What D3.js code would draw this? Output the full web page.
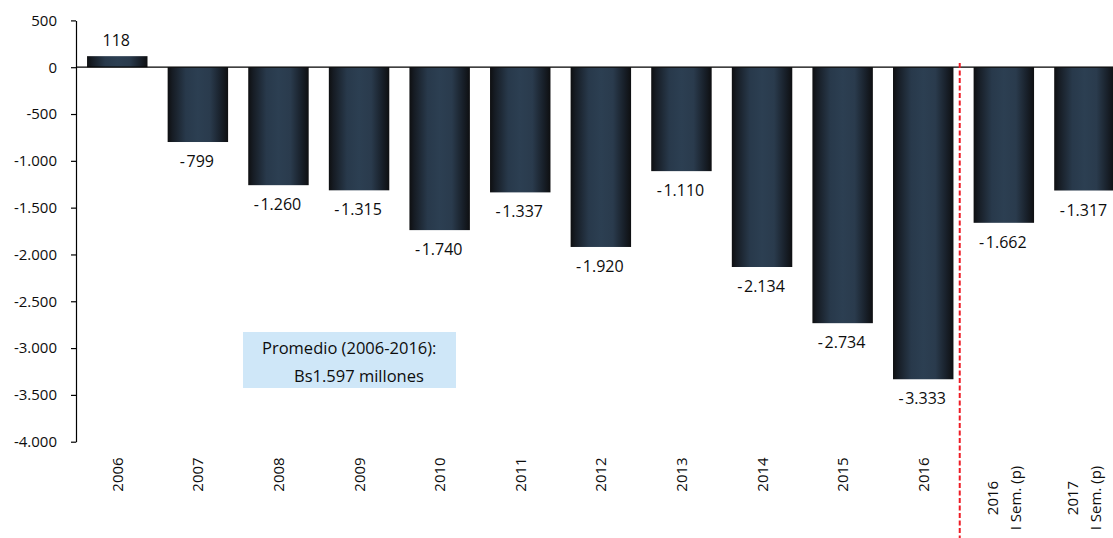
<!DOCTYPE html>
<html>
<head>
<meta charset="utf-8">
<script src="https://cdn.jsdelivr.net/npm/d3@7"></script>
<style>
  html, body { margin: 0; padding: 0; background: #fff; }
  svg { display: block; }
  text { font-family: "Open Sans", "Noto Sans", sans-serif; fill: #0d0d0d; }
</style>
</head>
<body>
<svg id="chart" width="1113" height="538"></svg>
<script>
const categories = ["2006","2007","2008","2009","2010","2011","2012","2013","2014","2015","2016","2016\nI Sem. (p)","2017\nI Sem. (p)"];
const values = [118,-799,-1260,-1315,-1740,-1337,-1920,-1110,-2134,-2734,-3333,-1662,-1317];
const yTicks = [500,0,-500,-1000,-1500,-2000,-2500,-3000,-3500,-4000];
const yDomain = [-4000, 500];
const noteLines = ["Promedio (2006-2016):", "Bs1.597 millones"];

const W = 1113, H = 538;
const svg = d3.select("#chart");

const locale = d3.formatLocale({decimal: ",", thousands: ".", grouping: [3], currency: ["", ""], minus: "-"});
const fmt = locale.format(",d");
const fmtLabel = d => d < 0 ? "-\u200A" + fmt(-d) : fmt(d);

const y = d3.scaleLinear().domain(yDomain).range([441.7, 20.4]);
const x = d3.scaleBand().domain(categories).range([66.9, 1134.8]).paddingInner(0.25).paddingOuter(0.25);
const axisX = 76;

// gradient
const defs = svg.append("defs");
const grad = defs.append("linearGradient").attr("id", "barGrad").attr("x1", "0%").attr("x2", "100%").attr("y1", "0%").attr("y2", "0%");
[[0, "#0e0f11"], [0.08, "#161c24"], [0.3, "#28394b"], [0.5, "#2c3f52"], [0.7, "#2a3b4d"], [0.88, "#18202a"], [1, "#0e0f11"]]
  .forEach(([o, c]) => grad.append("stop").attr("offset", o).attr("stop-color", c));

// bars
svg.append("g").selectAll("rect").data(values).join("rect")
  .attr("x", (d, i) => x(categories[i]))
  .attr("width", x.bandwidth())
  .attr("y", d => y(Math.max(0, d)))
  .attr("height", d => Math.abs(y(d) - y(0)))
  .attr("fill", "url(#barGrad)");

// zero line
svg.append("line")
  .attr("x1", axisX).attr("x2", W)
  .attr("y1", y(0)).attr("y2", y(0))
  .attr("stroke", "#000").attr("stroke-width", 1.2);

// y axis
const yAxis = d3.axisLeft(y).tickValues(yTicks).tickFormat(fmt).tickSize(5).tickSizeOuter(0).tickPadding(14);
const gy = svg.append("g").attr("transform", `translate(${axisX},0)`).call(yAxis);
gy.select(".domain").attr("stroke", "#000").attr("stroke-width", 1.2);
gy.selectAll(".tick line").attr("stroke", "#000").attr("stroke-width", 1.2);
gy.selectAll(".tick text").style("font-size", "15px").attr("fill", "#0d0d0d");

// value labels
svg.append("g").selectAll("text").data(values).join("text")
  .attr("x", (d, i) => x(categories[i]) + x.bandwidth() / 2 - 1)
  .attr("y", d => d >= 0 ? y(d) - 10 : y(d) + 25)
  .attr("text-anchor", "middle")
  .style("font-size", "16px")
  .text(d => fmtLabel(d));

// x labels (rotated)
const xl = svg.append("g");
categories.forEach((c, i) => {
  const lines = c.split("\n");
  const n = lines.length;
  const cx = x(c) + x.bandwidth() / 2;
  const cy = 474.5 + (n - 1) * 23.5;
  lines.forEach((ln, j) => {
    const off = 5.5 + (j - (n - 1) / 2) * 23;
    xl.append("text")
      .attr("transform", `translate(${cx + off},${cy}) rotate(-90)`)
      .attr("text-anchor", "middle")
      .style("font-size", "15px")
      .text(ln);
  });
});

// red dashed separator
const sepX = (x("2016") + x.bandwidth() + x(categories[11])) / 2 - 3.8;
svg.append("line")
  .attr("x1", sepX).attr("x2", sepX)
  .attr("y1", 63).attr("y2", H)
  .attr("stroke", "#ee1c25").attr("stroke-width", 2)
  .attr("stroke-dasharray", "5,2.5");

// annotation box
const note = svg.append("g");
note.append("rect").attr("x", 243).attr("y", 332).attr("width", 213).attr("height", 56).attr("fill", "#cfe7f8");
note.append("text").attr("x", 262).attr("y", 354).style("font-size", "16.5px").text(noteLines[0]);
note.append("text").attr("x", 294).attr("y", 382).style("font-size", "16.5px").text(noteLines[1]);
</script>
</body>
</html>
